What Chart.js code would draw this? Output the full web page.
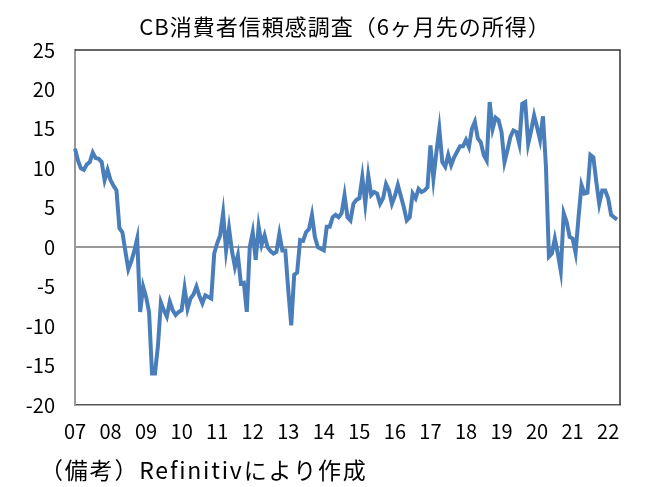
<!DOCTYPE html>
<html><head><meta charset="utf-8">
<script src="https://cdn.jsdelivr.net/npm/chart.js@4/dist/chart.umd.min.js"></script>
<style>html,body{margin:0;padding:0;background:#fff;}#wrap{width:648px;height:487px;position:relative;}</style>
</head><body><div id="wrap"><canvas id="c" width="648" height="487"></canvas></div>
<script>
const chartTitle = "CB消費者信頼感調査（6ヶ月先の所得）";
const footnote = "（備考）Refinitivにより作成";
const yearLabels = ["07","08","09","10","11","12","13","14","15","16","17","18","19","20","21","22"];
const yTicks = [25,20,15,10,5,0,-5,-10,-15,-20];
const incomeExpect = [
 12.5,11.0,10.0,9.8,10.5,10.8,12.0,11.3,11.2,10.8,8.5,9.8,
 8.5,7.8,7.2,2.4,1.9,-0.5,-2.8,-1.8,-0.5,1.1,-8.2,-5.0,
 -6.3,-8.2,-16.0,-16.0,-12.5,-7.0,-8.0,-8.8,-6.9,-8.0,-8.6,-8.2,
 -8.0,-5.2,-7.8,-6.5,-6.0,-5.0,-6.2,-7.1,-6.1,-6.3,-6.5,-0.8,
 0.5,1.5,4.3,-0.4,2.4,-0.5,-2.5,-1.0,-4.6,-4.5,-8.2,0.0,
 1.9,-1.6,2.6,0.3,1.5,0.0,-0.5,-0.8,-0.6,1.7,-0.4,-0.4,
 -5.4,-9.9,-3.5,-3.2,0.9,0.8,1.9,2.3,4.1,1.3,0.0,-0.2,
 -0.4,2.6,2.6,3.8,4.1,3.8,4.3,6.6,3.8,3.4,5.5,6.0,
 6.2,8.9,5.5,9.1,6.6,7.0,6.8,5.5,6.2,8.0,7.2,5.5,
 6.5,7.9,6.5,5.1,3.4,3.8,6.8,6.2,7.4,7.0,7.2,7.6,
 12.9,8.7,12.0,15.0,10.8,10.2,11.7,10.4,11.4,12.1,12.8,12.8,
 13.6,12.7,15.0,15.9,13.8,13.3,11.7,11.0,18.4,15.0,16.4,16.1,
 14.6,10.8,12.3,14.0,14.8,14.6,13.1,18.2,18.4,13.1,14.8,16.7,
 15.2,13.6,16.6,10.2,-1.2,-0.8,1.1,-0.8,-3.0,4.3,3.2,1.3,
 1.1,-0.7,3.8,7.9,6.8,6.9,11.7,11.4,8.3,5.5,7.2,7.2,
 6.2,4.1,3.8,3.5
];
// one empty slot after the last month keeps the line off the right frame
const seriesData = incomeExpect.concat([null]);
const months = seriesData.map((v,i)=> (i%12===0 && i/12 < yearLabels.length) ? yearLabels[i/12] : "");

const FONT = "'Noto Sans CJK JP','Noto Sans',sans-serif";
const framePlugin = {
  id:'frame',
  afterDraw(chart){
    const {ctx, chartArea:a} = chart;
    ctx.save();
    ctx.strokeStyle = '#333';
    ctx.lineWidth = 1.5;
    ctx.beginPath();
    ctx.moveTo(a.left, a.top); ctx.lineTo(a.right, a.top); ctx.lineTo(a.right, a.bottom);
    ctx.stroke();
    ctx.fillStyle = '#000';
    ctx.textBaseline = 'middle';
    ctx.font = "22px " + FONT;
    ctx.letterSpacing = '1px';
    ctx.textAlign = 'center';
    ctx.fillText(chartTitle, 345, 27);
    ctx.font = "23px " + FONT;
    ctx.letterSpacing = '1.8px';
    ctx.textAlign = 'left';
    ctx.fillText(footnote, 40, 470);
    ctx.restore();
  }
};

new Chart(document.getElementById('c'), {
  type:'line',
  data:{labels:months, datasets:[{data:seriesData, borderColor:'#4a7ebb', borderWidth:4, pointRadius:0, tension:0, fill:false, spanGaps:false}]},
  options:{
    responsive:false, animation:false,
    layout:{padding:{left:0,right:28,top:50,bottom:40}},
    plugins:{legend:{display:false}, tooltip:{enabled:false}, title:{display:false}},
    scales:{
      x:{
        offset:false,
        grid:{display:false, drawTicks:false},
        border:{display:true, color:'#555', width:1.5},
        ticks:{autoSkip:false, maxRotation:0, padding:14, color:'#000', font:{size:20, family:FONT},
          callback:(v,i)=> months[i]},
        afterFit:s=>{s.height=42;}
      },
      y:{
        min:-20, max:25,
        afterBuildTicks:s=>{s.ticks = yTicks.map(v=>({value:v}));},
        grid:{drawTicks:false, color:c=> c.tick && c.tick.value===0 ? '#999' : 'rgba(0,0,0,0)', lineWidth:2},
        border:{display:true, color:'#999', width:2},
        ticks:{padding:20, color:'#000', font:{size:20, family:FONT}},
        afterFit:s=>{s.width=75;}
      }
    }
  },
  plugins:[framePlugin]
});
</script></body></html>
